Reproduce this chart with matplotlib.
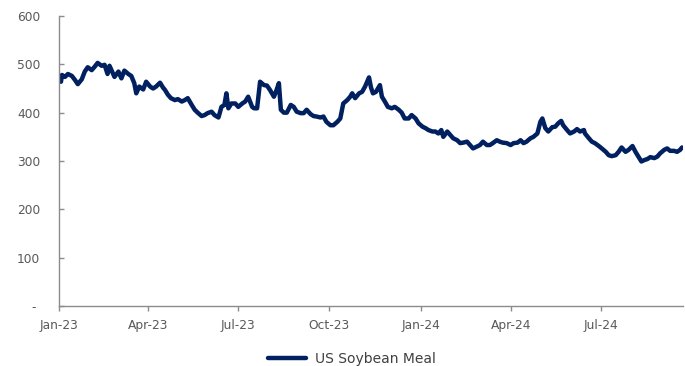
import matplotlib
matplotlib.use("Agg")
import matplotlib.pyplot as plt
import matplotlib.dates as mdates
import pandas as pd

dates = [
    "2023-01-03", "2023-01-04", "2023-01-07", "2023-01-10", "2023-01-14", "2023-01-17",
    "2023-01-20", "2023-01-24", "2023-01-27", "2023-01-30", "2023-02-03", "2023-02-06",
    "2023-02-09", "2023-02-13", "2023-02-16", "2023-02-19", "2023-02-21", "2023-02-23",
    "2023-02-26", "2023-03-02", "2023-03-05", "2023-03-08", "2023-03-12", "2023-03-15",
    "2023-03-18", "2023-03-20", "2023-03-23", "2023-03-27", "2023-03-30", "2023-04-03",
    "2023-04-06", "2023-04-09", "2023-04-13", "2023-04-16", "2023-04-18", "2023-04-21",
    "2023-04-24", "2023-04-28", "2023-05-01", "2023-05-05", "2023-05-08", "2023-05-11",
    "2023-05-15", "2023-05-18", "2023-05-21", "2023-05-25", "2023-05-28", "2023-05-31",
    "2023-06-04", "2023-06-07", "2023-06-11", "2023-06-14", "2023-06-17", "2023-06-19",
    "2023-06-21", "2023-06-24", "2023-06-28", "2023-07-01", "2023-07-05", "2023-07-08",
    "2023-07-11", "2023-07-15", "2023-07-17", "2023-07-20", "2023-07-23", "2023-07-27",
    "2023-07-30", "2023-08-02", "2023-08-06", "2023-08-08", "2023-08-11", "2023-08-13",
    "2023-08-16", "2023-08-19", "2023-08-23", "2023-08-26", "2023-08-29", "2023-09-02",
    "2023-09-05", "2023-09-08", "2023-09-12", "2023-09-15", "2023-09-18", "2023-09-22",
    "2023-09-25", "2023-09-28", "2023-10-02", "2023-10-05", "2023-10-09", "2023-10-12",
    "2023-10-15", "2023-10-19", "2023-10-22", "2023-10-24", "2023-10-27", "2023-10-31",
    "2023-11-03", "2023-11-06", "2023-11-10", "2023-11-12", "2023-11-14", "2023-11-17",
    "2023-11-21", "2023-11-23", "2023-11-26", "2023-11-29", "2023-12-03", "2023-12-06",
    "2023-12-10", "2023-12-13", "2023-12-16", "2023-12-20", "2023-12-23", "2023-12-27",
    "2023-12-30", "2024-01-03", "2024-01-06", "2024-01-09", "2024-01-13", "2024-01-16",
    "2024-01-19", "2024-01-22", "2024-01-24", "2024-01-28", "2024-01-31", "2024-02-03",
    "2024-02-07", "2024-02-10", "2024-02-13", "2024-02-17", "2024-02-20", "2024-02-23",
    "2024-02-27", "2024-03-01", "2024-03-04", "2024-03-08", "2024-03-11", "2024-03-14",
    "2024-03-18", "2024-03-21", "2024-03-24", "2024-03-28", "2024-04-01", "2024-04-04",
    "2024-04-08", "2024-04-11", "2024-04-14", "2024-04-17", "2024-04-21", "2024-04-24",
    "2024-04-28", "2024-05-01", "2024-05-03", "2024-05-06", "2024-05-09", "2024-05-13",
    "2024-05-16", "2024-05-19", "2024-05-22", "2024-05-24", "2024-05-28", "2024-05-31",
    "2024-06-04", "2024-06-07", "2024-06-10", "2024-06-14", "2024-06-15", "2024-06-19",
    "2024-06-22", "2024-06-25", "2024-06-29", "2024-07-02", "2024-07-06", "2024-07-09",
    "2024-07-12", "2024-07-16", "2024-07-19", "2024-07-22", "2024-07-26", "2024-07-29",
    "2024-08-02", "2024-08-05", "2024-08-08", "2024-08-11", "2024-08-14", "2024-08-17",
    "2024-08-20", "2024-08-24", "2024-08-27", "2024-08-30", "2024-09-03", "2024-09-06",
    "2024-09-09", "2024-09-13", "2024-09-16", "2024-09-19", "2024-09-21",
]

soybean_meal = [
    464, 478, 474, 480, 476, 468,
    459, 469, 485, 494, 488, 495,
    503, 497, 499, 480, 497, 488,
    474, 485, 471, 487, 480, 476,
    461, 440, 454, 448, 464, 454,
    450, 454, 462, 452, 447, 437,
    430, 426, 428, 423, 426, 430,
    416, 406, 400, 393, 395, 399,
    402, 395, 390, 412, 416, 440,
    409, 419, 419, 412, 419, 423,
    433, 412, 409, 409, 464, 457,
    456, 447, 433, 443, 461, 406,
    400, 400, 416, 412, 402, 399,
    399, 406, 397, 393, 392, 390,
    392, 381, 374, 374, 381, 388,
    419, 426, 433, 440, 430, 440,
    443, 454, 473, 452, 440, 443,
    457, 433, 423, 412, 409, 412,
    406, 400, 388, 388, 395, 388,
    378, 371, 368, 364, 361, 361,
    357, 364, 350, 361, 354, 347,
    343, 337, 338, 340, 333, 326,
    330, 333, 340, 333, 333, 337,
    343, 340, 338, 337, 333, 337,
    338, 343, 337, 340, 347, 350,
    357, 381, 388, 368, 361, 370,
    371, 378, 383, 374, 364, 357,
    361, 366, 361, 364, 357, 347,
    340, 337, 331, 326, 319, 312,
    310, 312, 319, 328, 319, 323,
    331, 319, 309, 299, 302, 304,
    308, 306, 309, 316, 323, 326,
    321, 321, 319, 323, 328,
]

y_ticks = [0, 100, 200, 300, 400, 500, 600]
y_tick_labels = ["- ", "100", "200", "300", "400", "500", "600"]
x_tick_dates = ["2023-01-01", "2023-04-01", "2023-07-01", "2023-10-01",
                "2024-01-01", "2024-04-01", "2024-07-01"]
series_name = "US Soybean Meal"

x = pd.to_datetime(dates)

fig = plt.figure(figsize=(6.85, 3.66), dpi=100)
ax = fig.add_axes([59 / 685, 60 / 366, 624 / 685, 290 / 366])

ax.plot(x, soybean_meal, color="#002060", linewidth=3.2, solid_joinstyle="round",
        solid_capstyle="round", label=series_name)

ax.set_xlim(pd.Timestamp("2023-01-01"), pd.Timestamp("2024-09-22"))
ax.set_ylim(0, 600)

ax.set_yticks(y_ticks)
ax.set_yticklabels(y_tick_labels)
ax.set_xticks(pd.to_datetime(x_tick_dates))
ax.xaxis.set_major_formatter(mdates.DateFormatter("%b-%y"))

for s in ["top", "right"]:
    ax.spines[s].set_visible(False)
for s in ["left", "bottom"]:
    ax.spines[s].set_color("#8c8c8c")
    ax.spines[s].set_linewidth(1.0)

ax.tick_params(axis="both", width=1.0, color="#8c8c8c",
               labelcolor="#595959", labelsize=8.8)
ax.tick_params(axis="x", direction="out", length=3.6, pad=5.5)
ax.tick_params(axis="y", direction="in", length=3.4, pad=13.5)

leg = fig.legend(loc="center", bbox_to_anchor=(352 / 685, 1 - 359 / 366), frameon=False,
                 fontsize=10, handlelength=2.75, handletextpad=0.6)
for t in leg.get_texts():
    t.set_color("#404040")

fig.savefig("out.png", dpi=100)
